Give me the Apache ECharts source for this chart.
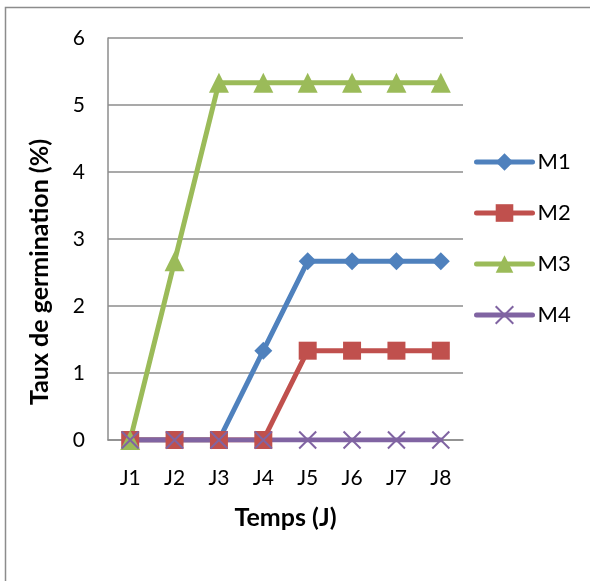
<!DOCTYPE html>
<html>
<head>
<meta charset="utf-8">
<script src="https://cdn.jsdelivr.net/npm/echarts@6/dist/echarts.min.js"></script>
<style>
  html, body { margin: 0; padding: 0; background: #fff; }
  #chart { width: 590px; height: 581px; }
</style>
</head>
<body>
<div id="chart"></div>
<script>
// Germination rate per day for four media
const days = ['J1', 'J2', 'J3', 'J4', 'J5', 'J6', 'J7', 'J8'];
const m1 = [0, 0, 0, 1.333, 2.667, 2.667, 2.667, 2.667];
const m2 = [0, 0, 0, 0, 1.333, 1.333, 1.333, 1.333];
const m3 = [0, 2.667, 5.333, 5.333, 5.333, 5.333, 5.333, 5.333];
const m4 = [0, 0, 0, 0, 0, 0, 0, 0];
const yTicks = [0, 1, 2, 3, 4, 5, 6];

const FONT = 'Lato, "Open Sans", sans-serif';
const crossPath = 'path://M0,0L10,10M10,0L0,10';

function lineSeries(name, data, color, symbol, size, extra) {
  return Object.assign({
    name: name,
    type: 'line',
    data: data,
    symbol: symbol,
    symbolSize: size,
    lineStyle: { color: color, width: 5, cap: 'round', join: 'round' },
    itemStyle: { color: color },
    emphasis: { disabled: true },
    animation: false
  }, extra || {});
}

const chart = echarts.init(document.getElementById('chart'), null, { renderer: 'canvas' });
chart.setOption({
  backgroundColor: '#fff',
  animation: false,
  graphic: [{
    type: 'rect',
    shape: { x: 5.5, y: 7.5, width: 800, height: 800 },
    style: { fill: 'none', stroke: '#8c8c8c', lineWidth: 1.5 },
    silent: true
  }, {
    // vertical axis title
    type: 'text',
    x: 40,
    y: 272,
    rotation: Math.PI / 2,
    style: {
      text: 'Taux de germination (%)',
      fontFamily: FONT,
      fontSize: 25,
      fontWeight: 'bold',
      fill: '#000',
      align: 'center',
      verticalAlign: 'middle'
    },
    silent: true
  }],
  grid: { left: 108, right: 127, top: 38, bottom: 141 },
  legend: {
    orient: 'vertical',
    left: 469,
    top: 146,
    itemWidth: 56,
    itemHeight: 22,
    itemGap: 29,
    lineStyle: { width: 5, cap: 'round' },
    textStyle: { fontFamily: FONT, fontSize: 22, lineHeight: 22, color: '#000' },
    data: ['M1', 'M2', 'M3', 'M4']
  },
  xAxis: {
    type: 'category',
    data: days,
    boundaryGap: true,
    name: 'Temps (J)',
    nameLocation: 'middle',
    nameGap: 65,
    nameTextStyle: { fontFamily: FONT, fontSize: 25, fontWeight: 'bold', color: '#000' },
    axisLine: { lineStyle: { color: '#8c8c8c', width: 1.5 } },
    axisTick: { show: false },
    axisLabel: { fontFamily: FONT, fontSize: 21, color: '#000', margin: 28 },
    splitLine: { show: false }
  },
  yAxis: {
    type: 'value',
    min: yTicks[0],
    max: yTicks[yTicks.length - 1],
    interval: 1,
    axisLine: { show: true, lineStyle: { color: '#8c8c8c', width: 1.5 } },
    axisTick: { show: false },
    axisLabel: { fontFamily: FONT, fontSize: 21, color: '#000', margin: 23 },
    splitLine: { show: true, lineStyle: { color: '#8c8c8c', width: 1.5 } }
  },
  series: [
    lineSeries('M1', m1, '#4F81BD', 'diamond', 18),
    lineSeries('M2', m2, '#C0504D', 'rect', 18),
    lineSeries('M3', m3, '#9BBB59', 'triangle', 20),
    lineSeries('M4', m4, '#8064A2', crossPath, 17, {
      itemStyle: { color: '#8064A2', borderColor: '#8064A2', borderWidth: 2 }
    })
  ]
});
</script>
</body>
</html>
